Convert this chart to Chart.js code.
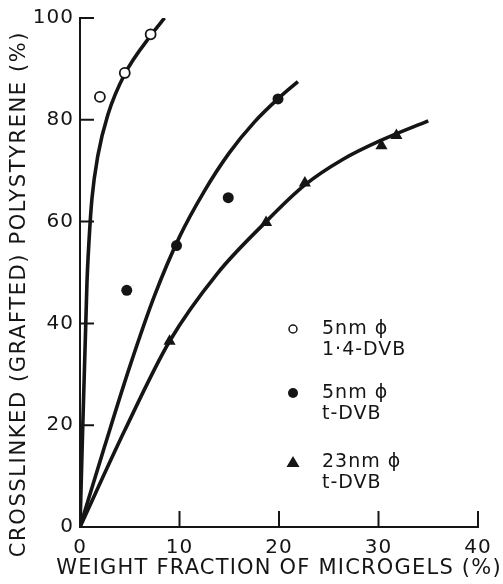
<!DOCTYPE html>
<html>
<head>
<meta charset="utf-8">
<script src="https://cdn.jsdelivr.net/npm/chart.js@4/dist/chart.umd.min.js"></script>
<style>
  html, body { margin: 0; padding: 0; background: #fff; }
  #wrap { width: 503px; height: 584px; position: relative; }
</style>
</head>
<body>
<div id="wrap"><canvas id="chart"></canvas></div>
<script>
const xTicks = [0, 10, 20, 30, 40];
const yTicks = [0, 20, 40, 60, 80, 100];
const xTitle = "WEIGHT FRACTION OF MICROGELS (%)";
const yTitle = "CROSSLINKED (GRAFTED) POLYSTYRENE (%)";

// measured points
const openX = [2.0, 4.5, 7.1];
const openY = [84.5, 89.2, 96.8];
const filledX = [4.7, 9.7, 14.9, 19.9];
const filledY = [46.5, 55.3, 64.7, 84.1];
const triX = [9.0, 18.7, 22.6, 30.3, 31.8];
const triY = [36.5, 59.8, 67.6, 74.9, 76.9];

// hand-drawn curves
const curveOpenX = [0, 0.7, 0.9, 1.2, 1.8, 2.8, 4.5, 7.2, 8.5];
const curveOpenY = [0, 48, 56, 64.5, 73, 81, 89, 96.8, 100];
const curveFilledX = [0, 2.5, 5, 7.5, 10, 12.5, 15, 17.5, 20, 21.9];
const curveFilledY = [0, 16, 31.5, 45.5, 57, 66, 73.5, 79.5, 84.3, 87.5];
const curveTriX = [0, 4.5, 9, 13.8, 18.6, 22.6, 26.4, 30.3, 35];
const curveTriY = [0, 19, 36.5, 49.8, 59.8, 67.2, 72.2, 76, 79.8];

const legendLines = [
	["5nm \u03d5", "1\u00b74-DVB"],
	["5nm \u03d5", "t-DVB"],
	["23nm \u03d5", "t-DVB"],
];

const ink = "#151515";
const font = "'DejaVu Sans', sans-serif";

function pts(xs, ys) {
	return xs.map((x, i) => ({ x: x, y: ys[i] }));
}

function curve(xs, ys) {
	return {
		data: pts(xs, ys),
		showLine: true,
		borderColor: ink,
		borderWidth: 3.6,
		pointRadius: 0,
		cubicInterpolationMode: "monotone",
		order: 2,
	};
}

// wider lettering, closer to the stencil font of the original
const spacing = {
	id: "spacing",
	beforeDraw(chart) {
		chart.ctx.letterSpacing = "1px";
	},
};

const innerTicks = {
	id: "innerTicks",
	beforeDatasetsDraw(chart) {
		const ctx = chart.ctx;
		const xs = chart.scales.x;
		const ys = chart.scales.y;
		const area = chart.chartArea;
		ctx.save();
		ctx.strokeStyle = ink;
		ctx.lineWidth = 2;
		ctx.beginPath();
		xTicks.forEach(v => {
			const px = xs.getPixelForValue(v);
			ctx.moveTo(px, area.bottom);
			ctx.lineTo(px, area.bottom - 16);
		});
		yTicks.forEach(v => {
			const py = ys.getPixelForValue(v);
			ctx.moveTo(area.left, py);
			ctx.lineTo(area.left + 14, py);
		});
		ctx.stroke();
		ctx.restore();
	},
};

const sideText = {
	id: "sideText",
	afterDraw(chart) {
		const ctx = chart.ctx;
		const area = chart.chartArea;
		ctx.save();
		ctx.fillStyle = ink;
		ctx.font = "21px " + font;
		ctx.textAlign = "center";
		ctx.textBaseline = "middle";
		ctx.letterSpacing = "1.2px";
		ctx.fillText(xTitle, (area.left + area.right) / 2, 569);
		ctx.letterSpacing = "1.6px";
		ctx.translate(20, 294);
		ctx.rotate(-Math.PI / 2);
		ctx.fillText(yTitle, 0, 0);
		ctx.restore();

		// legend block
		const mx = area.left + 213;
		const tx = area.left + 242;
		const rows = [311, 375, 444];
		ctx.save();
		ctx.fillStyle = ink;
		ctx.strokeStyle = ink;
		ctx.font = "19px " + font;
		ctx.letterSpacing = "1px";
		ctx.textAlign = "left";
		ctx.textBaseline = "middle";
		rows.forEach((r, i) => {
			const y = area.top + r;
			ctx.fillText(legendLines[i][0], tx, y);
			ctx.fillText(legendLines[i][1], tx, y + 21);
			ctx.beginPath();
			if (i === 0) {
				ctx.lineWidth = 1.5;
				ctx.arc(mx, y, 4, 0, Math.PI * 2);
				ctx.stroke();
			} else if (i === 1) {
				ctx.arc(mx, y, 5, 0, Math.PI * 2);
				ctx.fill();
			} else {
				ctx.moveTo(mx, y - 6);
				ctx.lineTo(mx + 6.5, y + 5);
				ctx.lineTo(mx - 6.5, y + 5);
				ctx.closePath();
				ctx.fill();
			}
		});
		ctx.restore();
	},
};

const ctx = document.getElementById("chart").getContext("2d");
const myChart = new Chart(ctx, {
	type: "scatter",
	data: {
		datasets: [
			curve(curveOpenX, curveOpenY),
			curve(curveFilledX, curveFilledY),
			curve(curveTriX, curveTriY),
			{
				data: pts(openX, openY),
				pointStyle: "circle",
				pointRadius: 5,
				pointBackgroundColor: "#fff",
				pointBorderColor: ink,
				pointBorderWidth: 1.8,
				order: 1,
			},
			{
				data: pts(filledX, filledY),
				pointStyle: "circle",
				pointRadius: 5.5,
				pointBackgroundColor: ink,
				pointBorderColor: ink,
				pointBorderWidth: 0,
				order: 1,
			},
			{
				data: pts(triX, triY),
				pointStyle: "triangle",
				pointRadius: 7,
				pointBackgroundColor: ink,
				pointBorderColor: ink,
				pointBorderWidth: 0,
				order: 1,
			},
		],
	},
	options: {
		responsive: true,
		maintainAspectRatio: false,
		animation: false,
		layout: { padding: { top: 16, right: 25, left: 0, bottom: 0 } },
		plugins: {
			legend: { display: false },
			tooltip: { enabled: false },
		},
		scales: {
			x: {
				type: "linear",
				min: 0,
				max: 40,
				afterBuildTicks: s => { s.ticks = xTicks.map(v => ({ value: v })); },
				afterFit: s => { s.height = 57; },
				grid: { display: false, drawTicks: false },
				border: { display: true, color: ink, width: 2 },
				ticks: { color: ink, font: { family: font, size: 20 }, padding: 9, maxRotation: 0 },
			},
			y: {
				type: "linear",
				min: 0,
				max: 100,
				afterBuildTicks: s => { s.ticks = yTicks.map(v => ({ value: v })); },
				afterFit: s => { s.width = 80; },
				grid: { display: false, drawTicks: false },
				border: { display: true, color: ink, width: 2 },
				ticks: { color: ink, font: { family: font, size: 20 }, padding: 6 },
			},
		},
	},
	plugins: [spacing, innerTicks, sideText],
});
</script>
</body>
</html>
